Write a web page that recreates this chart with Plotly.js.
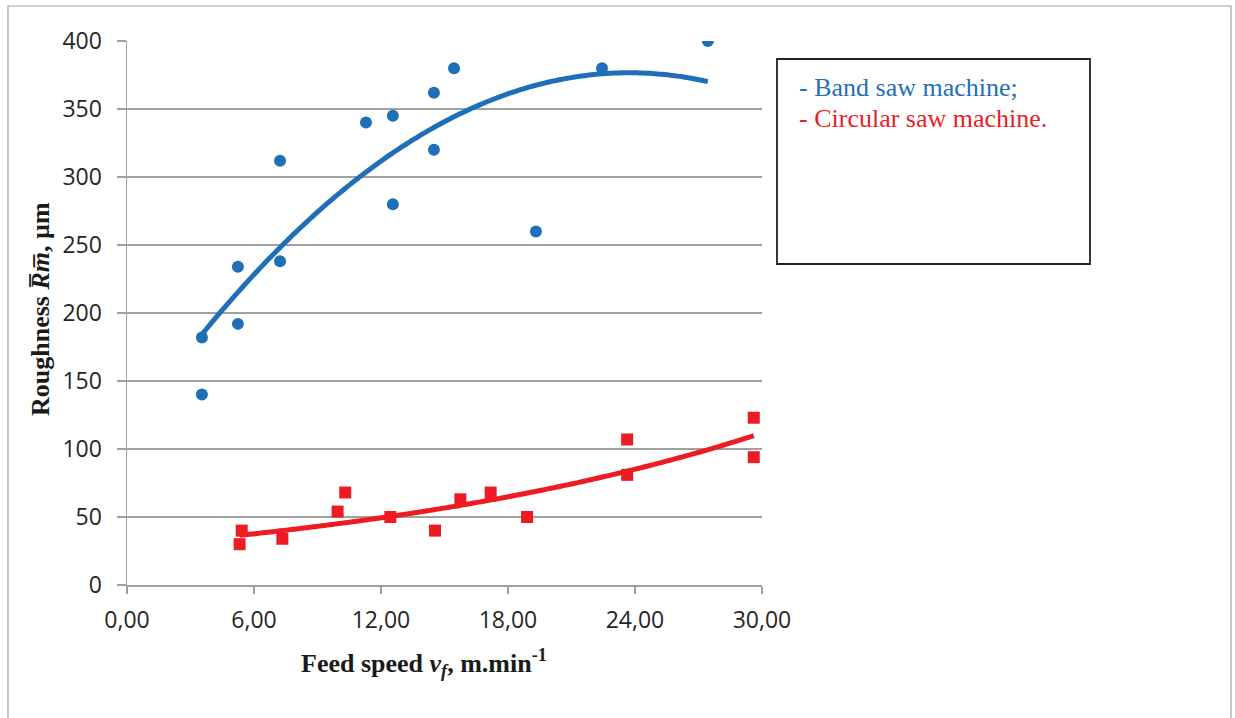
<!DOCTYPE html>
<html><head><meta charset="utf-8">
<script src="https://cdn.plot.ly/plotly-3.0.1.min.js"></script>
<style>html,body{margin:0;padding:0;background:#fff}#chart{width:1235px;height:718px}</style>
</head><body><div id="chart"></div>
<script>
// Data
const seriesNames = ["Band saw machine;", "Circular saw machine."];
const bandX = [3.54, 3.54, 5.24, 5.24, 7.23, 7.23, 11.29, 12.56, 12.56, 14.5, 14.5, 15.45, 19.32, 22.44, 27.44];
const bandY = [182, 140, 234, 192, 312, 238, 340, 345, 280, 362, 320, 380, 260, 380, 400];
const circX = [5.32, 5.42, 7.34, 9.95, 10.31, 12.44, 14.55, 15.75, 17.18, 18.9, 23.63, 23.63, 29.61, 29.61];
const circY = [30, 40, 34, 54, 68, 50, 40, 63, 68, 50, 107, 81, 123, 94];
const xTicks = [0, 6, 12, 18, 24, 30];
const yTicks = [0, 50, 100, 150, 200, 250, 300, 350, 400];

const BLUE = '#1f6fb8', RED = '#ed1c24';

// Least-squares trendlines (as in the spreadsheet trendlines)
function polyFit2(xs, ys) {
  const S = [0,0,0,0,0], T = [0,0,0];
  xs.forEach((x,i)=>{ for(let k=0;k<5;k++) S[k]+=Math.pow(x,k); for(let k=0;k<3;k++) T[k]+=ys[i]*Math.pow(x,k); });
  const A = [[S[0],S[1],S[2],T[0]],[S[1],S[2],S[3],T[1]],[S[2],S[3],S[4],T[2]]];
  for (let i=0;i<3;i++){ for(let j=i+1;j<3;j++){ const f=A[j][i]/A[i][i]; for(let k=i;k<4;k++) A[j][k]-=f*A[i][k]; } }
  const c=[0,0,0];
  for (let i=2;i>=0;i--){ let s=A[i][3]; for(let k=i+1;k<3;k++) s-=A[i][k]*c[k]; c[i]=s/A[i][i]; }
  return x => c[0]+c[1]*x+c[2]*x*x;
}
function expFit(xs, ys) {
  const n=xs.length; let sx=0,sy=0,sxx=0,sxy=0;
  xs.forEach((x,i)=>{ const ly=Math.log(ys[i]); sx+=x; sy+=ly; sxx+=x*x; sxy+=x*ly; });
  const b=(n*sxy-sx*sy)/(n*sxx-sx*sx); const a=(sy-b*sx)/n;
  return x => Math.exp(a+b*x);
}
function curve(f, xs) {
  const lo=Math.min(...xs), hi=Math.max(...xs), cx=[], cy=[];
  for (let i=0;i<=100;i++){ const x=lo+(hi-lo)*i/100; cx.push(x); cy.push(f(x)); }
  return {cx, cy};
}
const bandFit = curve(polyFit2(bandX, bandY), bandX);
const circFit = curve(expFit(circX, circY), circX);

const traces = [
  {x: bandFit.cx, y: bandFit.cy, mode:'lines', line:{color:BLUE, width:5, shape:'spline'}, hoverinfo:'skip', showlegend:false},
  {x: circFit.cx, y: circFit.cy, mode:'lines', line:{color:RED, width:5, shape:'spline'}, hoverinfo:'skip', showlegend:false},
  {x: bandX, y: bandY, mode:'markers', name: seriesNames[0], marker:{symbol:'circle', size:12, color:BLUE}, showlegend:false},
  {x: circX, y: circY, mode:'markers', name: seriesNames[1], marker:{symbol:'square', size:12, color:RED}, showlegend:false}
];

const L=127, T=41, W=635, H=544;
const px = v => (v - L)/W, py = v => 1 - (v - T)/H;

const layout = {
  width:1235, height:718,
  margin:{l:L, t:T, r:1235-L-W, b:718-T-H},
  paper_bgcolor:'#fff', plot_bgcolor:'#fff',
  separators:', ',
  showlegend:false,
  font:{family:'Open Sans, sans-serif', color:'#262626'},
  xaxis:{range:[0,30], tickvals:xTicks, tickformat:'.2f', showgrid:false, zeroline:false,
    showline:true, linecolor:'#a0a0a0', linewidth:1.5, ticks:'outside', ticklen:7, tickcolor:'#a0a0a0', tickwidth:1.5,
    ticklabelstandoff:7,
    tickfont:{family:'Open Sans, sans-serif', size:23, color:'#262626'}, fixedrange:true},
  yaxis:{range:[0,400], tickvals:yTicks, showgrid:true, gridcolor:'#a0a0a0', gridwidth:1.5, zeroline:false,
    showline:true, linecolor:'#a0a0a0', linewidth:1.5, ticks:'outside', ticklen:9, tickcolor:'#a0a0a0', tickwidth:1.5,
    ticklabelstandoff:10,
    tickfont:{family:'Open Sans, sans-serif', size:23, color:'#262626'}, fixedrange:true},
  shapes:[
    {type:'rect', xref:'paper', yref:'paper', x0:px(8), x1:px(1231), y0:py(6), y1:py(740), line:{color:'#a0a0a0', width:1.2}, fillcolor:'rgba(0,0,0,0)', layer:'below'},
    {type:'rect', xref:'paper', yref:'paper', x0:px(777), x1:px(1090), y0:py(59), y1:py(264), line:{color:'#222', width:1.8}, fillcolor:'#fff'}
  ],
  annotations:[
    {xref:'paper', yref:'paper', x:px(797), y:py(87), xanchor:'left', yanchor:'middle', showarrow:false,
      text:'- ' + seriesNames[0], font:{family:'Liberation Serif, serif', size:26, color:BLUE}},
    {xref:'paper', yref:'paper', x:px(797), y:py(118), xanchor:'left', yanchor:'middle', showarrow:false,
      text:'- ' + seriesNames[1], font:{family:'Liberation Serif, serif', size:26, color:RED}},
    {xref:'paper', yref:'paper', x:px(40), y:py(309), xanchor:'center', yanchor:'middle', showarrow:false, textangle:-90,
      text:'<b>Roughness <i>R\u0305m\u0305</i>, \u00b5m</b>', font:{family:'Liberation Serif, serif', size:26, color:'#1a1a1a'}},
    {xref:'paper', yref:'paper', x:px(424), y:py(663), xanchor:'center', yanchor:'middle', showarrow:false,
      text:'<b>Feed speed <i>v<sub>f</sub></i>, m.min<sup>-1</sup></b>', font:{family:'Liberation Serif, serif', size:26, color:'#1a1a1a'}}
  ]
};
Plotly.newPlot('chart', traces, layout, {displayModeBar:false, staticPlot:true});
</script></body></html>
